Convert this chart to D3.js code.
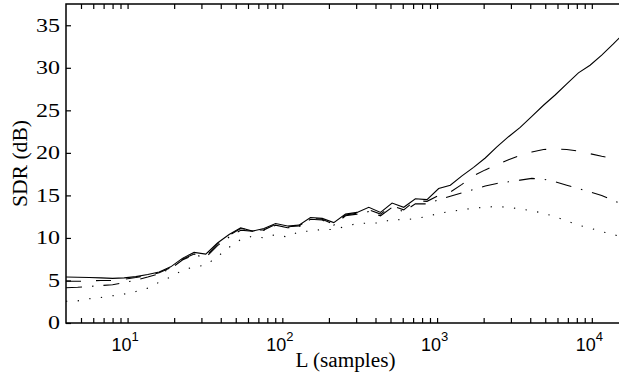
<!DOCTYPE html>
<html>
<head>
<meta charset="utf-8">
<script src="https://cdn.jsdelivr.net/npm/d3@7"></script>
<style>
  body { margin: 0; background: #fff; }
  svg { display: block; }
</style>
</head>
<body>
<svg id="chart"></svg>
<script>
const width = 619
const height = 372
// the plot box runs past the right edge of the picture (it was cropped)
const margin = { top: 4, right: -6, bottom: 49, left: 66 }

// block lengths L = 2^(k/4)
const blockLengths = [4, 4.76, 5.66, 6.73, 8, 9.51, 11.3, 13.5, 16, 19, 22.6, 26.9,
  32, 38.1, 45.3, 53.8, 64, 76.1, 90.5, 108, 128, 152, 181, 215,
  256, 304, 362, 431, 512, 609, 724, 861, 1024, 1218, 1448, 1722,
  2048, 2435, 2896, 3444, 4096, 4871, 5793, 6889, 8192, 9742, 11585, 13777, 16384]

const sdrSolid = [5.4, 5.38, 5.35, 5.3, 5.25, 5.3, 5.45, 5.7, 6.0, 6.6, 7.6, 8.3,
  8.1, 9.4, 10.4, 11.2, 10.8, 11.1, 11.7, 11.4, 11.5, 12.4, 12.3, 11.8,
  12.8, 13.0, 13.6, 13.0, 14.1, 13.6, 14.6, 14.5, 15.8, 16.2, 17.3, 18.3,
  19.4, 20.7, 21.9, 23.0, 24.3, 25.6, 26.8, 28.1, 29.4, 30.3, 31.5, 32.8, 34.2]

const sdrDashed = [4.9, 4.9, 4.95, 5.0, 5.0, 5.15, 5.35, 5.6, 5.9, 6.5, 7.5, 8.1,
  7.8, 9.3, 10.3, 11.1, 10.9, 10.95, 11.6, 11.3, 11.4, 12.3, 12.2, 11.6,
  12.7, 12.9, 13.3, 12.8, 13.8, 13.3, 14.4, 14.3, 15.0, 15.4, 16.3, 17.3,
  18.0, 18.6, 19.2, 19.7, 20.1, 20.4, 20.45, 20.4, 20.2, 19.9, 19.6, 19.35, 19.1]

const sdrDashDot = [4.15, 4.2, 4.3, 4.4, 4.5, 4.75, 5.05, 5.4, 5.8, 6.4, 7.4, 8.0,
  7.7, 9.1, 10.1, 10.9, 10.8, 10.9, 11.5, 11.2, 11.3, 12.2, 12.1, 11.5,
  12.6, 12.8, 13.1, 12.6, 13.6, 13.1, 14.0, 14.0, 14.5, 14.9, 15.3, 15.7,
  16.1, 16.4, 16.6, 16.8, 17.0, 16.9, 16.6, 16.2, 15.8, 15.4, 15.0, 14.4, 13.8]

const sdrDotted = [2.55, 2.6, 2.85, 3.0, 3.2, 3.4, 3.7, 4.1, 4.8, 5.4, 6.2, 6.6,
  6.8, 7.8, 8.9, 9.8, 10.2, 10.0, 10.4, 10.1, 10.75, 10.8, 11.0, 11.0,
  11.35, 11.7, 11.75, 11.75, 12.2, 12.1, 12.3, 12.5, 12.9, 13.1, 13.3, 13.5,
  13.6, 13.7, 13.6, 13.4, 13.2, 12.9, 12.5, 12.0, 11.5, 11.15, 10.75, 10.4, 10.0]

const yTicks = [0, 5, 10, 15, 20, 25, 30, 35]
const xMajorTicks = [10, 100, 1000, 10000]
const xMinorTicks = [5, 6, 7, 8, 9, 20, 30, 40, 50, 60, 70, 80, 90,
  200, 300, 400, 500, 600, 700, 800, 900, 2000, 3000, 4000, 5000, 6000, 7000, 8000, 9000]
const xLabel = 'L (samples)'
const yLabel = 'SDR (dB)'

const series = [
  { values: sdrSolid, dash: null },
  { values: sdrDashed, dash: '15,15' },
  { values: sdrDashDot, dash: '16,10,1.5,10' },
  { values: sdrDotted, dash: '1.3,10.4' }
]

const plotW = width - margin.left - margin.right
const plotH = height - margin.top - margin.bottom

const x = d3.scaleLog()
  .domain([4, 16384])
  .range([margin.left, margin.left + plotW])

const y = d3.scaleLinear()
  .domain([0, 37.5])
  .range([margin.top + plotH, margin.top])

const svg = d3.select('#chart')
  .attr('width', width)
  .attr('height', height)

/**
 * Inward ticks on all four sides (matlab style box).
 */
function drawTicks () {
  const x0 = margin.left
  const x1 = margin.left + plotW
  const y0 = margin.top + plotH
  const y1 = margin.top
  const tickLen = 5
  const allX = xMajorTicks.concat(xMinorTicks)

  const tickAxes = [
    { axis: d3.axisBottom(x).tickValues(allX), at: `translate(0, ${y0})` },
    { axis: d3.axisTop(x).tickValues(allX), at: `translate(0, ${y1})` },
    { axis: d3.axisLeft(y).tickValues(yTicks), at: `translate(${x0}, 0)` },
    { axis: d3.axisRight(y).tickValues(yTicks), at: `translate(${x1}, 0)` }
  ]

  tickAxes.forEach(a => {
    const g = svg.append('g')
      .attr('transform', a.at)
      .call(a.axis.tickSizeInner(-tickLen).tickSizeOuter(0).tickFormat(''))
    g.select('.domain').remove()
    g.selectAll('.tick line')
      .attr('stroke', '#000')
      .attr('stroke-width', 1.2)
  })
}

/**
 * Box and all the text.
 */
function drawAxes () {
  const x0 = margin.left
  const x1 = margin.left + plotW
  const y0 = margin.top + plotH
  const y1 = margin.top

  svg.append('rect')
    .attr('x', x0)
    .attr('y', y1)
    .attr('width', plotW)
    .attr('height', plotH)
    .attr('fill', 'none')
    .attr('stroke', '#000')
    .attr('stroke-width', 1.5)

  // y tick labels (serif, a bit wide in the original)
  svg.append('g')
    .selectAll('text')
    .data(yTicks)
    .enter()
    .append('text')
    .attr('x', x0 - 6)
    .attr('y', d => y(d))
    .attr('dy', '0.35em')
    .attr('text-anchor', 'end')
    .attr('font-family', 'Liberation Serif, Times New Roman, serif')
    .attr('font-size', '18px')
    .attr('textLength', d => String(d).length * 12)
    .attr('lengthAdjust', 'spacingAndGlyphs')
    .text(d => d)

  // x tick labels as 10^n
  const xl = svg.append('g')
    .attr('font-family', 'Liberation Sans, Arial, sans-serif')
  xMajorTicks.forEach(t => {
    const txt = xl.append('text')
      .attr('x', x(t) - 2.5)
      .attr('y', 351)
      .attr('text-anchor', 'middle')
      .attr('font-size', '18px')
    txt.append('tspan').text('10')
    txt.append('tspan')
      .attr('dy', -10)
      .attr('font-size', '13px')
      .text(Math.round(Math.log10(t)))
  })

  svg.append('text')
    .attr('x', (x0 + x1) / 2)
    .attr('y', 367)
    .attr('text-anchor', 'middle')
    .attr('font-family', 'Liberation Serif, Times New Roman, serif')
    .attr('font-size', '20px')
    .attr('textLength', 100)
    .attr('lengthAdjust', 'spacingAndGlyphs')
    .text(xLabel)

  svg.append('text')
    .attr('transform', `translate(27, ${(y0 + y1) / 2}) rotate(-90)`)
    .attr('text-anchor', 'middle')
    .attr('font-family', 'Liberation Serif, Times New Roman, serif')
    .attr('font-size', '20px')
    .attr('textLength', 87)
    .attr('lengthAdjust', 'spacingAndGlyphs')
    .text(yLabel)
}

/**
 * The four SDR curves.
 */
function drawLines () {
  const line = d3.line()
    .x(d => x(d[0]))
    .y(d => y(d[1]))

  svg.append('defs').append('clipPath')
    .attr('id', 'plot-clip')
    .append('rect')
    .attr('x', margin.left)
    .attr('y', margin.top)
    .attr('width', plotW)
    .attr('height', plotH)

  svg.append('g')
    .attr('clip-path', 'url(#plot-clip)')
    .selectAll('path')
    .data(series)
    .enter()
    .append('path')
    .attr('d', s => line(blockLengths.map((l, i) => [l, s.values[i]])))
    .attr('fill', 'none')
    .attr('stroke', '#000')
    .attr('stroke-width', 1.1)
    .attr('stroke-dasharray', s => s.dash)
}

drawLines()
drawAxes()
drawTicks()
</script>
</body>
</html>
